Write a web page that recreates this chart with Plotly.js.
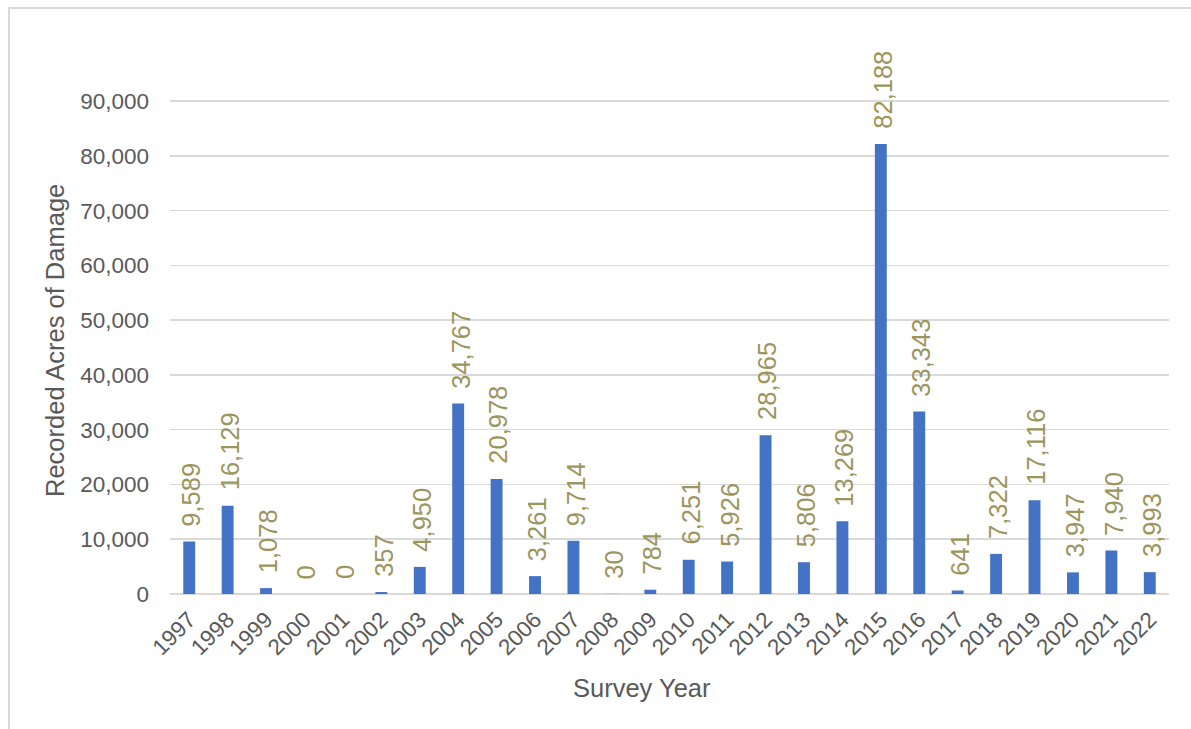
<!DOCTYPE html>
<html>
<head>
<meta charset="utf-8">
<script src="https://cdn.plot.ly/plotly-3.0.1.min.js"></script>
<style>
  html, body { margin: 0; padding: 0; background: #fff; }
  #frame { position: absolute; left: 8px; top: 7px; width: 1200px; height: 740px;
           border-left: 2px solid #d9d9d9; border-top: 2px solid #d9d9d9; box-sizing: border-box; }
  #chart { position: absolute; left: 0; top: 0; width: 1191px; height: 729px; }
</style>
</head>
<body>
<div id="frame"></div>
<div id="chart"></div>
<script>
const years = ["1997","1998","1999","2000","2001","2002","2003","2004","2005","2006","2007","2008","2009",
               "2010","2011","2012","2013","2014","2015","2016","2017","2018","2019","2020","2021","2022"];
const acres = [9589, 16129, 1078, 0, 0, 357, 4950, 34767, 20978, 3261, 9714, 30, 784,
               6251, 5926, 28965, 5806, 13269, 82188, 33343, 641, 7322, 17116, 3947, 7940, 3993];
const yTickVals = [0, 10000, 20000, 30000, 40000, 50000, 60000, 70000, 80000, 90000];

const fmt = v => v.toLocaleString('en-US');
const labelColor = '#9c955d';
const textColor = '#595959';
const fontFam = 'Liberation Sans, Arial, sans-serif';

const trace = {
  type: 'bar',
  x: years,
  y: acres,
  marker: { color: '#4472c4' },
  hoverinfo: 'x+y'
};

const labels = years.map((yr, i) => ({
  x: i, y: acres[i], xref: 'x', yref: 'y',
  text: fmt(acres[i]), showarrow: false, textangle: -90,
  xanchor: 'center', yanchor: 'bottom', yshift: 13, xshift: 2,
  font: { family: fontFam, size: 25.5, color: labelColor }
}));

labels.push({
  xref: 'paper', yref: 'paper', x: (642 - 170) / 999, y: -0.19, yanchor: 'middle', xanchor: 'center',
  text: 'Survey Year', showarrow: false,
  font: { family: fontFam, size: 25.5, color: textColor }
});
labels.push({
  xref: 'paper', yref: 'paper', x: (55 - 170) / 999, y: (594 - 341) / 494, xanchor: 'center', yanchor: 'middle',
  text: 'Recorded Acres of Damage', showarrow: false, textangle: -90,
  font: { family: fontFam, size: 25.5, color: textColor }
});

const layout = {
  width: 1191, height: 729,
  margin: { l: 170, r: 22, t: 100, b: 135 },
  paper_bgcolor: 'rgba(0,0,0,0)',
  plot_bgcolor: 'rgba(0,0,0,0)',
  bargap: 0.69,
  showlegend: false,
  xaxis: {
    type: 'category',
    range: [-0.5, years.length - 0.5],
    tickangle: -45,
    ticklabelstandoff: 7,
    tickfont: { family: fontFam, size: 22.5, color: textColor },
    showgrid: false, zeroline: false,
    showline: false, ticks: '', automargin: false
  },
  yaxis: {
    range: [0, 90200],
    tickvals: yTickVals,
    ticktext: yTickVals.map(fmt),
    ticklabelstandoff: 20,
    tickfont: { family: fontFam, size: 22.5, color: textColor },
    gridcolor: '#d9d9d9', gridwidth: 1.5,
    zeroline: true, zerolinecolor: '#d9d9d9', zerolinewidth: 1.5,
    showline: false, ticks: '', ticklen: 0, automargin: false
  },
  annotations: labels
};

Plotly.newPlot('chart', [trace], layout, { displayModeBar: false, staticPlot: true });
</script>
</body>
</html>
